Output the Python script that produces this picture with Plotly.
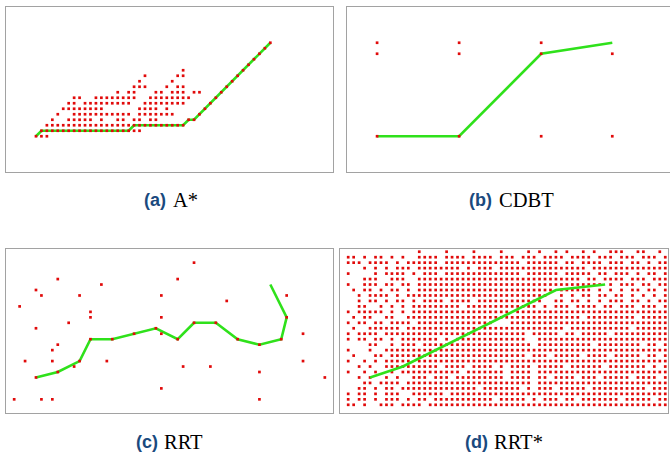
import plotly.graph_objects as go

FIG_W, FIG_H = 670, 457

# All maps are 60 x 30 occupancy grids; values below are (column, row) cell indices,
# row 0 at the top.  Cells are drawn at their centres.

# ---------- (a) A* : expanded cells per row, and the returned path ----------
astar_explored = {
    6: [48],
    7: [47],
    8: [46],
    9: [45],
    10: [44],
    11: [32, 43],
    12: [25, 31, 32, 42],
    13: [24, 30, 41],
    14: [23, 24, 25, 29, 31, 32, 40],
    15: [20, 22, 23, 27, 28, 30, 31, 32, 34, 35, 39],
    16: [12, 13, 16, 17, 18, 19, 20, 21, 22, 23, 26, 27, 28, 29, 30, 31, 32, 33, 38],
    17: [11, 12, 14, 15, 16, 17, 18, 19, 20, 21, 22, 25, 26, 27, 28, 29, 30, 31, 32, 37],
    18: [10, 11, 12, 13, 14, 15, 16, 17, 24, 25, 26, 27, 29, 36],
    19: [9, 12, 13, 14, 15, 16, 17, 18, 19, 20, 21, 22, 24, 25, 26, 27, 28, 29, 30, 35],
    20: [8, 11, 12, 13, 14, 15, 17, 20, 21, 23, 24, 26, 27, 33, 34],
    21: [7, 8, 9, 10, 11, 12, 13, 14, 15, 16, 17, 18, 19, 20, 21, 22,
         23, 24, 25, 26, 27, 28, 29, 30, 31, 32],
    22: [6, 7, 8, 9, 10, 11, 12, 13, 14, 15, 16, 17, 18, 19, 20, 21, 22, 23, 24],
    23: [5, 6, 7],
}
astar_path_cols = [5, 6, 22, 23, 32, 33, 34, 35, 48]
astar_path_rows = [23, 22, 22, 21, 21, 20, 20, 19, 6]

# ---------- (b) CDBT : tree nodes and path ----------
cdbt_node_cols = [5, 5, 20, 20, 35, 35, 48, 5, 20, 35, 48]
cdbt_node_rows = [6, 8, 6, 8, 6, 8, 8, 23, 23, 23, 23]
cdbt_path_cols = [5, 20, 35, 48]
cdbt_path_rows = [23, 23, 8, 6]

# ---------- (c) RRT : sampled nodes and path ----------
rrt_node_cols = [34, 31, 9, 17, 5, 6, 13, 28, 51, 40, 2, 15, 15, 28, 11, 5, 54,
                 28, 9, 8, 3, 8, 18, 12, 32, 37, 54, 46, 58, 28, 1, 6, 8, 46]
rrt_node_rows = [2, 5, 5, 6, 7, 8, 8, 8, 8, 9, 10, 11, 12, 12, 13, 14, 15,
                 15, 17, 18, 20, 20, 20, 21, 21, 21, 20, 22, 23, 25, 27, 27, 27, 27]
rrt_path_cols = [5, 9, 13, 15, 19, 23, 27, 31, 34, 38, 42, 46, 50, 51, 48]
rrt_path_rows = [23, 22, 20, 16, 16, 15, 14, 16, 13, 13, 16, 17, 16, 12, 6]

# ---------- (d) RRT* : sampled cells ('#') per row, and the path ----------
rrtstar_grid = [
    ".......... ....#....# ....#....# ....#.#..# .#..#.#..# ##..##..#.",
    ".##.#.##.# .#..####.# ###.####.# ##.###.### #.####.### .###.###.#",
    ".###.####. #.######.# ########## ###.###### .##.####.# ##.##.#.##",
    "....#.#.#. ###.###### ##.#.###.# ########## #####.#### ##########",
    ".#....#.## ##.#.###.# ########## ###.###### .#####.##. ###.#.##.#",
    "....###..# ##..###### ########## ########## ####.##.## ##.###.###",
    ".#..###.## .##.###### ########## ########## ########.# .###.##.##",
    "..#.##.#.# #.#.###### ########## #########. ######.#.# .#.##.##.#",
    "...#.####. #.######## ########## ########.. #.#.##.##. ##.#.#.#.#",
    "...#.##.#. ##.#.####. ####.##### #######..# #.##.#.#.# ##.##.#.##",
    "...##..#.# .#.####### ##.####### ######.#.# ##.####.## .###.###.#",
    ".#.#####.# .#.####### ########## #.######## ########## ##########",
    "..#.##..## ..######## ########## ########## ####.##### ####.#####",
    ".#.##.##.# ###.###### ########.. .######### ########## ##########",
    "..#..##### #.######## ########## ########## #.######## ###.######",
    ".#.####.## ########## ########## ####.##### .##.#####. ##########",
    ".#.##.##.# .#######.# .######### ####..#### ########## ##########",
    ".....##..# .###.##### ########## #####.#### ######.### #####.##.#",
    ".#...#..## ########## ########## ########## ########## ##########",
    "..#...##.# ########## ########## ####.###.# ####.####. #####.##.#",
    ".#..#.#.## ###.###### ########## ########## ########## ##########",
    "...#.#..## ########.# ###.####.# .####.#### #.######.# ######.#.#",
    ".#..#.#..# .######### ##.####### .####.#### ########## ##########",
    "...#.#..#. #..###.### .######### .####.##.# ###.###.## ###.####.#",
    "....##.### #.######## ########## #####.#### ########## ##########",
    "...##.#.## .######### #####.#### ###.#.###. #####.#### ######.###",
    ".#.##.#.## #..######. ########## ########## ########## ##########",
    ".#.##.#.## #.#.##.### ########.# ####.#.### .##.###### #.#####.##",
    ".##.#..### .####.#### ########## ########## ########## ##########",
]
rrtstar_path_cols = [5, 11, 39, 48]
rrtstar_path_rows = [23, 21, 7, 6]

# ---------- captions ----------
caption_tags = ["(a)", "(b)", "(c)", "(d)"]
caption_names = ["A*", "CDBT", "RRT", "RRT*"]

# ---------- styling ----------
RED = "#e10a0a"
GREEN = "#2fe11b"
FRAME = "#a2a2a2"
TAG_BLUE = "#1a4a7e"
DOT = dict(symbol="square", size=2.7, color=RED, line=dict(width=0))
SERIF = "Liberation Serif"
SANS = "Liberation Sans"


def centres(cols, rows):
    return [c + 0.5 for c in cols], [r + 0.5 for r in rows]


def dict_cells(table):
    cols, rows = [], []
    for r, cs in table.items():
        for c in cs:
            cols.append(c)
            rows.append(r)
    return cols, rows


def grid_cells(lines):
    cols, rows = [], []
    for r, line in enumerate(lines):
        for c, ch in enumerate(line.replace(" ", "")):
            if ch == "#":
                cols.append(c)
                rows.append(r)
    return cols, rows


def dots(cols, rows, ax):
    x, y = centres(cols, rows)
    return go.Scatter(x=x, y=y, mode="markers", marker=DOT, xaxis="x" + ax,
                      yaxis="y" + ax, hoverinfo="skip", showlegend=False)


def path(cols, rows, ax):
    x, y = centres(cols, rows)
    return go.Scatter(x=x, y=y, mode="lines", line=dict(color=GREEN, width=2.6),
                      xaxis="x" + ax, yaxis="y" + ax, hoverinfo="skip", showlegend=False)


fig = go.Figure()

# (a)
fig.add_trace(path(astar_path_cols, astar_path_rows, ""))
fig.add_trace(dots(*dict_cells(astar_explored), ""))
# (b)
fig.add_trace(path(cdbt_path_cols, cdbt_path_rows, "2"))
fig.add_trace(dots(cdbt_node_cols, cdbt_node_rows, "2"))
# (c)
fig.add_trace(path(rrt_path_cols, rrt_path_rows, "3"))
fig.add_trace(dots(rrt_node_cols + rrt_path_cols[:-1], rrt_node_rows + rrt_path_rows[:-1], "3"))
# (d)
fig.add_trace(dots(*grid_cells(rrtstar_grid), "4"))
fig.add_trace(path(rrtstar_path_cols, rrtstar_path_rows, "4"))

# panel frames in pixels: left, right, top, bottom
panels = [
    (6, 333, 7, 172, 60.0, True),
    (347, 670, 7, 172, 59.05, False),   # right edge runs past the page
    (6, 333, 249, 413, 60.0, True),
    (340, 668, 249, 413, 60.0, True),
]

layout = dict(
    width=FIG_W, height=FIG_H,
    margin=dict(l=0, r=0, t=0, b=0),
    paper_bgcolor="white", plot_bgcolor="white",
    showlegend=False,
)
for i, (x0, x1, y0, y1, xmax, right_edge) in enumerate(panels):
    key = "" if i == 0 else str(i + 1)
    common = dict(showgrid=False, zeroline=False, showticklabels=False, ticks="",
                  showline=True, linecolor=FRAME, linewidth=1.3, fixedrange=True)
    layout["xaxis" + key] = dict(common, domain=[x0 / FIG_W, x1 / FIG_W],
                                 range=[0, xmax], mirror=True,
                                 anchor="y" + key)
    layout["yaxis" + key] = dict(common, domain=[1 - y1 / FIG_H, 1 - y0 / FIG_H],
                                 range=[30, 0], mirror=right_edge,
                                 anchor="x" + key)

# caption placement: left edge of tag, left edge of name, vertical centre (px)
caption_pos = [
    (141.5, 171.0, 199.5),
    (467.0, 497.0, 199.5),
    (133.5, 162.0, 441.5),
    (462.5, 492.0, 441.5),
]
annotations = []
for tag, name, (xt, xn, yc) in zip(caption_tags, caption_names, caption_pos):
    annotations.append(dict(
        text="<b>%s</b>" % tag, x=xt / FIG_W, y=1 - yc / FIG_H, xref="paper", yref="paper",
        xanchor="left", yanchor="middle", showarrow=False,
        font=dict(family=SANS, size=18, color=TAG_BLUE)))
    annotations.append(dict(
        text=name, x=xn / FIG_W, y=1 - yc / FIG_H, xref="paper", yref="paper",
        xanchor="left", yanchor="middle", showarrow=False,
        font=dict(family=SERIF, size=20.5, color="#000000")))
layout["annotations"] = annotations

fig.update_layout(**layout)
fig.write_html("out.html", config={"displayModeBar": False})
